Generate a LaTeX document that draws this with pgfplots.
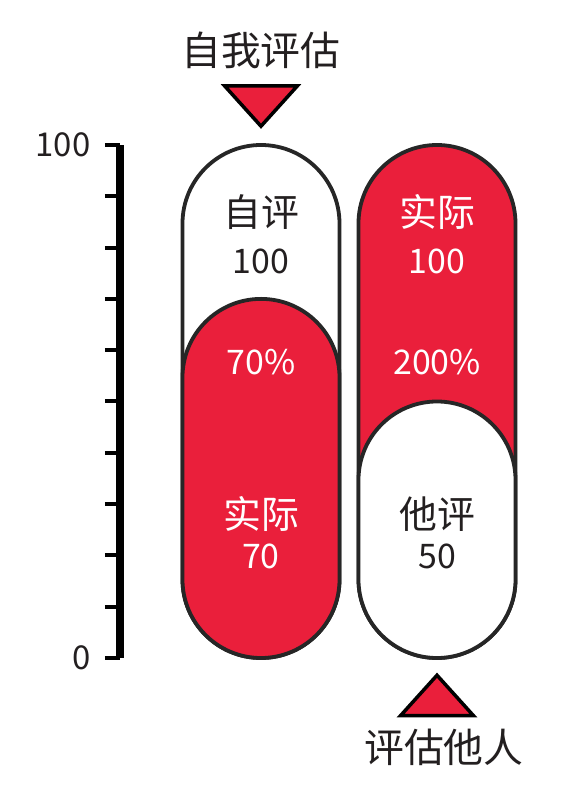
\documentclass[border=0pt]{standalone}
\usepackage{fontspec}
\setmainfont{Noto Sans CJK SC}
\usepackage{pgfplots}
\pgfplotsset{compat=1.18}
\definecolor{capred}{RGB}{234,31,59}
\definecolor{capline}{RGB}{38,38,38}
\definecolor{txt}{RGB}{35,31,32}
\begin{document}
\begin{tikzpicture}
\useasboundingbox (0,0) rectangle (570bp,788bp);
\begin{axis}[
  at={(120bp,130bp)}, anchor=south west,
  scale only axis, width=450bp, height=513bp,
  xmin=0, xmax=450, ymin=0, ymax=100,
  clip=false,
  axis x line=none,
  axis y line*=left,
  y axis line style={line width=7.5bp, black},
  ytick={0,100}, minor ytick={10,20,...,90},
  tick align=outside,
  major tick length=15bp, minor tick length=15bp,
  every tick/.style={line width=4bp, black},
  every minor tick/.style={line width=4bp, black},
  yticklabel style={font=\fontsize{33}{33}\selectfont, text=txt, xshift=-11bp},
  /pgf/number format/assume math mode=true,
]
% left capsule: self-evaluation 100, actual 70
\addplot[ybar, bar shift=0pt, bar width=157bp, fill=white, draw=capline, line width=3.8bp, rounded corners=78.5bp] coordinates {(141,100)};
\addplot[ybar, bar shift=0pt, bar width=157bp, fill=capred, draw=capline, line width=3.8bp, rounded corners=78.5bp] coordinates {(141,70)};
% right capsule: actual 100, others' evaluation 50
\addplot[ybar, bar shift=0pt, bar width=157bp, fill=capred, draw=capline, line width=3.8bp, rounded corners=78.5bp] coordinates {(317,100)};
\addplot[ybar, bar shift=0pt, bar width=157bp, fill=white, draw=capline, line width=3.8bp, rounded corners=78.5bp] coordinates {(317,50)};
% triangles
\addplot[only marks, mark=triangle*, mark size=42bp, mark options={fill=capred, draw=black, line width=3.5bp, yscale=-0.64}] coordinates {(141,108.9)};
\addplot[only marks, mark=triangle*, mark size=42bp, mark options={fill=capred, draw=black, line width=3.5bp, yscale=0.64}] coordinates {(317,-8.6)};
% labels
\node[font=\fontsize{40}{40}\selectfont, text=txt] at (axis cs:141,118.5) {自我评估};
\node[font=\fontsize{40}{40}\selectfont, text=txt] at (axis cs:324,-17.5) {评估他人};
\node[font=\fontsize{38}{38}\selectfont, text=txt] at (axis cs:141,86.9) {自评};
\node[font=\fontsize{34}{34}\selectfont, text=txt] at (axis cs:141,77.4) {100};
\node[font=\fontsize{34}{34}\selectfont, text=white] at (axis cs:141,57.7) {70\%};
\node[font=\fontsize{38}{38}\selectfont, text=white] at (axis cs:141,28.1) {实际};
\node[font=\fontsize{34}{34}\selectfont, text=white] at (axis cs:141,19.8) {70};
\node[font=\fontsize{38}{38}\selectfont, text=white] at (axis cs:317,86.9) {实际};
\node[font=\fontsize{34}{34}\selectfont, text=white] at (axis cs:317,77.4) {100};
\node[font=\fontsize{34}{34}\selectfont, text=white] at (axis cs:317,57.7) {200\%};
\node[font=\fontsize{38}{38}\selectfont, text=txt] at (axis cs:317,28.1) {他评};
\node[font=\fontsize{34}{34}\selectfont, text=txt] at (axis cs:317,19.8) {50};
\end{axis}
\end{tikzpicture}
\end{document}
